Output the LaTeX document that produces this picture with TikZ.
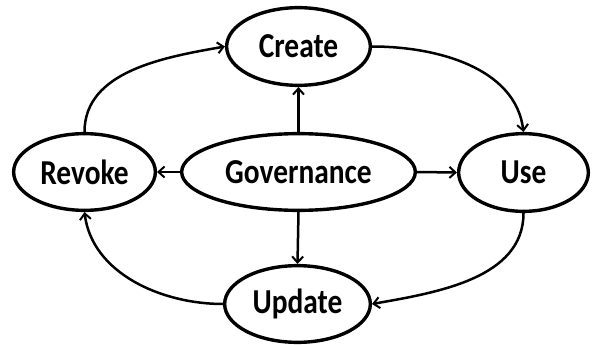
\documentclass[tikz,border=0pt]{standalone}
\usepackage{fontspec}
\newfontfamily\lbl{Carlito}[FakeStretch=0.84]
\usetikzlibrary{shapes.geometric,arrows.meta}
\begin{document}
\begin{tikzpicture}[x=1pt,y=-1pt,
  box/.style={ellipse,draw=black,line width=3.4pt,inner sep=0pt,fill=white,
    font=\lbl\bfseries\fontsize{35}{40}\selectfont},
  link/.style={line width=2.5pt,-{Straight Barb[length=6pt,width=11pt,line width=2pt]}}]
\useasboundingbox (0,0) rectangle (592,345);
\node[box,minimum width=143.7pt,minimum height=77.7pt] (create) at (298.5,46.5) {Create};
\node[box,minimum width=141.7pt,minimum height=76.7pt] (revoke) at (84.5,172) {Revoke};
\node[box,minimum width=129.7pt,minimum height=77.7pt] (use) at (523.5,172.5) {Use};
\node[box,minimum width=145.7pt,minimum height=76.7pt] (update) at (297.5,304) {Update};
\node[box,minimum width=233.7pt,minimum height=76.7pt] (gov) at (298.5,172) {Governance};
\draw[link] (gov.north) -- (create.south);
\draw[link] (gov.west) -- (revoke.east);
\draw[link] (gov.east) -- (use.west);
\draw[link] (gov.south) -- (update.north);
\draw[link] (revoke.north) to[out=90,in=190,looseness=0.95] (create.west);
\draw[link] (create.east) to[out=0,in=97,looseness=0.95] (use.north);
\draw[link] (use.south) to[out=-90,in=10,looseness=0.95] (update.east);
\draw[link] (update.west) to[out=180,in=-83,looseness=0.95] (revoke.south);
\end{tikzpicture}
\end{document}
